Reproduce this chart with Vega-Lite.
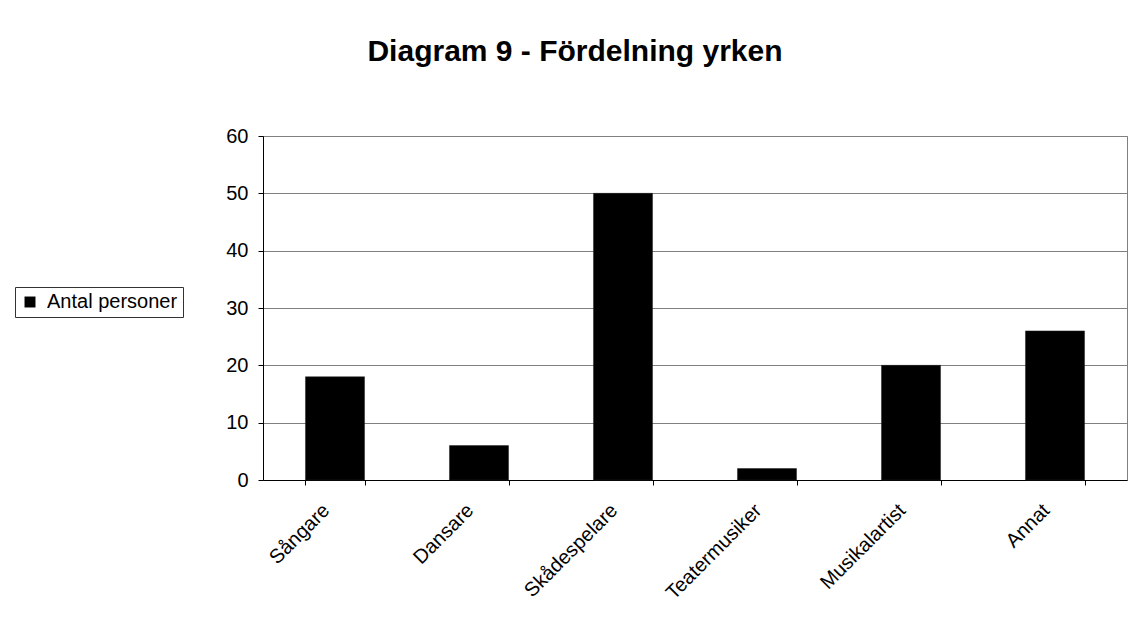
{
  "$schema": "https://vega.github.io/schema/vega-lite/v6.json",
  "autosize": {"type": "none"},
  "padding": {"left": 263, "top": 136, "right": 4, "bottom": 154},
  "width": 864,
  "height": 344,
  "background": "white",
  "title": {
    "text": "Diagram 9 - Fördelning yrken",
    "font": "Liberation Sans",
    "fontSize": 30,
    "fontWeight": "bold",
    "color": "black",
    "anchor": "middle",
    "frame": "group",
    "baseline": "alphabetic",
    "offset": 35,
    "dx": -120
  },
  "config": {
    "font": "Liberation Sans",
    "view": {"stroke": "#808080", "strokeWidth": 1}
  },
  "data": {
    "values": [
      {"yrke": "Sångare", "antal": 18},
      {"yrke": "Dansare", "antal": 6},
      {"yrke": "Skådespelare", "antal": 50},
      {"yrke": "Teatermusiker", "antal": 2},
      {"yrke": "Musikalartist", "antal": 20},
      {"yrke": "Annat", "antal": 26}
    ]
  },
  "mark": {"type": "bar", "stroke": "#222", "strokeWidth": 0.5},
  "encoding": {
    "x": {
      "field": "yrke",
      "type": "nominal",
      "sort": null,
      "scale": {"paddingInner": 0.59, "paddingOuter": 0.295},
      "axis": {
        "title": null,
        "labelAngle": -45,
        "labelAlign": "right",
        "labelBaseline": "middle",
        "labelFontSize": 20,
        "labelColor": "black",
        "labelPadding": 22,
        "labelOffset": -9,
        "tickBand": "extent",
        "tickSize": 5,
        "tickColor": "black",
        "domainColor": "black",
        "grid": false
      }
    },
    "y": {
      "field": "antal",
      "type": "quantitative",
      "scale": {"domain": [0, 60], "nice": false},
      "axis": {
        "title": null,
        "values": [0, 10, 20, 30, 40, 50, 60],
        "labelFontSize": 20,
        "labelColor": "black",
        "labelPadding": 10,
        "tickSize": 5,
        "tickColor": "black",
        "domainColor": "black",
        "grid": true,
        "gridColor": "#808080",
        "gridWidth": 1
      }
    },
    "color": {
      "datum": "Antal personer",
      "type": "nominal",
      "scale": {"range": ["black"]},
      "legend": {
        "title": null,
        "orient": "none",
        "legendX": -248,
        "legendY": 151,
        "symbolType": "square",
        "symbolSize": 120,
        "symbolStrokeWidth": 0,
        "labelFontSize": 20,
        "labelColor": "black",
        "labelFont": "Liberation Sans",
        "strokeColor": "#333",
        "padding": 5,
        "labelOffset": 7
      }
    }
  }
}
